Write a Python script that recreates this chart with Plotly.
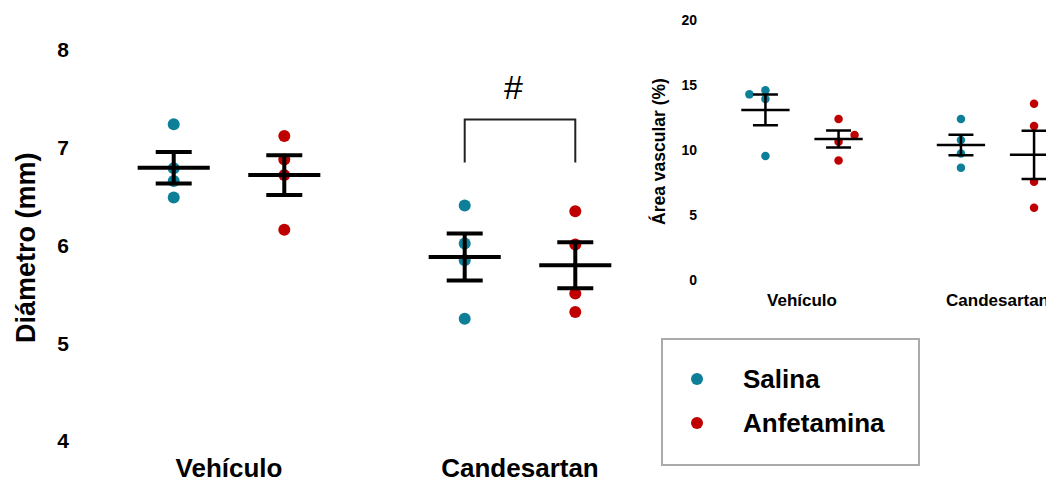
import numpy as np
import plotly.graph_objects as go

# ---------------- data ----------------
groups = ["Vehículo", "Candesartan"]
series_names = ["Salina", "Anfetamina"]
series_colors = ["#0e7f99", "#c00000"]

# Diámetro (mm), 4 animals per group
diam_salina = [[7.24, 6.79, 6.66, 6.49], [6.41, 6.02, 5.85, 5.25]]
diam_anfet = [[7.12, 6.88, 6.72, 6.16], [6.35, 6.01, 5.51, 5.32]]

# Área vascular (%), 4 animals per group
area_salina = [[14.28, 14.60, 13.92, 9.54], [12.38, 10.77, 9.74, 8.64]]
area_anfet = [[12.38, 10.64, 11.15, 9.20], [13.56, 11.85, 7.56, 5.56]]

# horizontal jitter of individual points in the inset (category units)
area_jitter_salina = [[-0.082, 0, 0, 0], [0, 0, 0, 0]]
area_jitter_anfet = [[0, 0, 0.082, 0], [0, 0, 0, 0]]

main_ticks = [4, 5, 6, 7, 8]
inset_ticks = [0, 5, 10, 15, 20]

FONT = "Liberation Sans, Arial, sans-serif"
W, H = 1046, 482


def px_x(p):
    return p / W


def px_y(p):
    return (H - p) / H


fig = go.Figure()


def add_panel(salina, anfet, jit_s, jit_a, xa, ya, offset, msize, meansize, lw, capw):
    pts, means = [], []
    for si, (data, jit) in enumerate([(salina, jit_s), (anfet, jit_a)]):
        sign = -1 if si == 0 else 1
        xs, ys, mx, my, me = [], [], [], [], []
        for gi, vals in enumerate(data):
            base = gi + sign * offset
            for k, v in enumerate(vals):
                xs.append(base + (jit[gi][k] if jit else 0))
                ys.append(v)
            arr = np.array(vals)
            mx.append(base)
            my.append(arr.mean())
            me.append(arr.std(ddof=1) / np.sqrt(len(arr)))
        pts.append(go.Scatter(
            x=xs, y=ys, mode="markers", name=series_names[si], showlegend=False,
            marker=dict(color=series_colors[si], size=msize, line=dict(width=0)),
            xaxis=xa, yaxis=ya, cliponaxis=False))
        means.append(go.Scatter(
            x=mx, y=my, mode="markers", showlegend=False, hoverinfo="skip",
            marker=dict(symbol="line-ew", size=meansize, color="black",
                        line=dict(color="black", width=lw)),
            error_y=dict(type="data", array=me, visible=True, color="black",
                         thickness=lw, width=capw),
            xaxis=xa, yaxis=ya))
    for t in pts + means:
        fig.add_trace(t)


add_panel(diam_salina, diam_anfet, None, None, "x", "y", 0.19, 12, 51.5, 4, 18)
add_panel(area_salina, area_anfet, area_jitter_salina, area_jitter_anfet,
          "x2", "y2", 0.187, 8.5, 34.5, 2.5, 12.5)

# ---------------- axes ----------------
common = dict(showgrid=False, zeroline=False, showline=False, ticks="", automargin=False,
              ticklabeloverflow="allow")

fig.update_layout(
    xaxis=dict(domain=[px_x(70), px_x(648)], range=[(70 - 229) / 291, (648 - 229) / 291],
               tickvals=[0, 1], ticktext=groups,
               tickfont=dict(family=FONT, size=26, color="black", weight="bold"), **common),
    yaxis=dict(domain=[px_y(450), 1.0], range=[3.908, 8.5115],
               tickvals=main_ticks, ticktext=[str(t) for t in main_ticks],
               tickfont=dict(family=FONT, size=21, color="black", weight="bold"), **common),
    xaxis2=dict(domain=[px_x(698), 1.0], range=[(698 - 802) / 195.5, (1046 - 802) / 195.5],
                anchor="y2", tickvals=[0, 1], ticktext=groups,
                tickfont=dict(family=FONT, size=17, color="black", weight="bold"), **common),
    yaxis2=dict(domain=[px_y(288), px_y(10)], range=[-0.615, 20.77], anchor="x2",
                tickvals=inset_ticks, ticktext=[str(t) for t in inset_ticks],
                tickfont=dict(family=FONT, size=14, color="black", weight="bold"), **common),
    width=W, height=H,
    margin=dict(l=0, r=0, t=0, b=0),
    paper_bgcolor="white", plot_bgcolor="white",
    showlegend=False,
)

# significance bracket and "#"
fig.add_shape(type="path", xref="x", yref="y",
              path=f"M {1 - 0.19} 6.85 L {1 - 0.19} 7.29 L {1 + 0.19} 7.29 L {1 + 0.19} 6.85",
              line=dict(color="#222222", width=2))
fig.add_annotation(x=0.976, y=7.62, xref="x", yref="y", text="#", showarrow=False,
                   xanchor="center", yanchor="middle",
                   font=dict(family=FONT, size=34, color="black"))

# axis titles
fig.add_annotation(x=px_x(26), y=px_y(248), xref="paper", yref="paper",
                   xanchor="center", yanchor="middle",
                   text="Diámetro (mm)", textangle=-90, showarrow=False,
                   font=dict(family=FONT, size=27, color="black", weight="bold"))
fig.add_annotation(x=px_x(658), y=px_y(152), xref="paper", yref="paper",
                   xanchor="center", yanchor="middle",
                   text="Área vascular (%)", textangle=-90, showarrow=False,
                   font=dict(family=FONT, size=17.5, color="black", weight="bold"))

# legend (drawn manually)
fig.add_shape(type="rect", xref="paper", yref="paper",
              x0=px_x(662), x1=px_x(919), y0=px_y(465), y1=px_y(339),
              line=dict(color="#aaaaaa", width=2), fillcolor="rgba(0,0,0,0)")
for i, (nm, col) in enumerate(zip(series_names, series_colors)):
    yc = 379 + i * 44
    fig.add_shape(type="circle", xref="paper", yref="paper",
                  xsizemode="pixel", ysizemode="pixel",
                  xanchor=px_x(697), yanchor=px_y(yc), x0=-6, x1=6, y0=-6, y1=6,
                  fillcolor=col, line=dict(width=0))
    fig.add_annotation(x=px_x(741), y=px_y(yc), xref="paper", yref="paper",
                       xanchor="left", yanchor="middle", text=nm, showarrow=False,
                       font=dict(family=FONT, size=26, color="black", weight="bold"))

fig.write_html("out.html")
